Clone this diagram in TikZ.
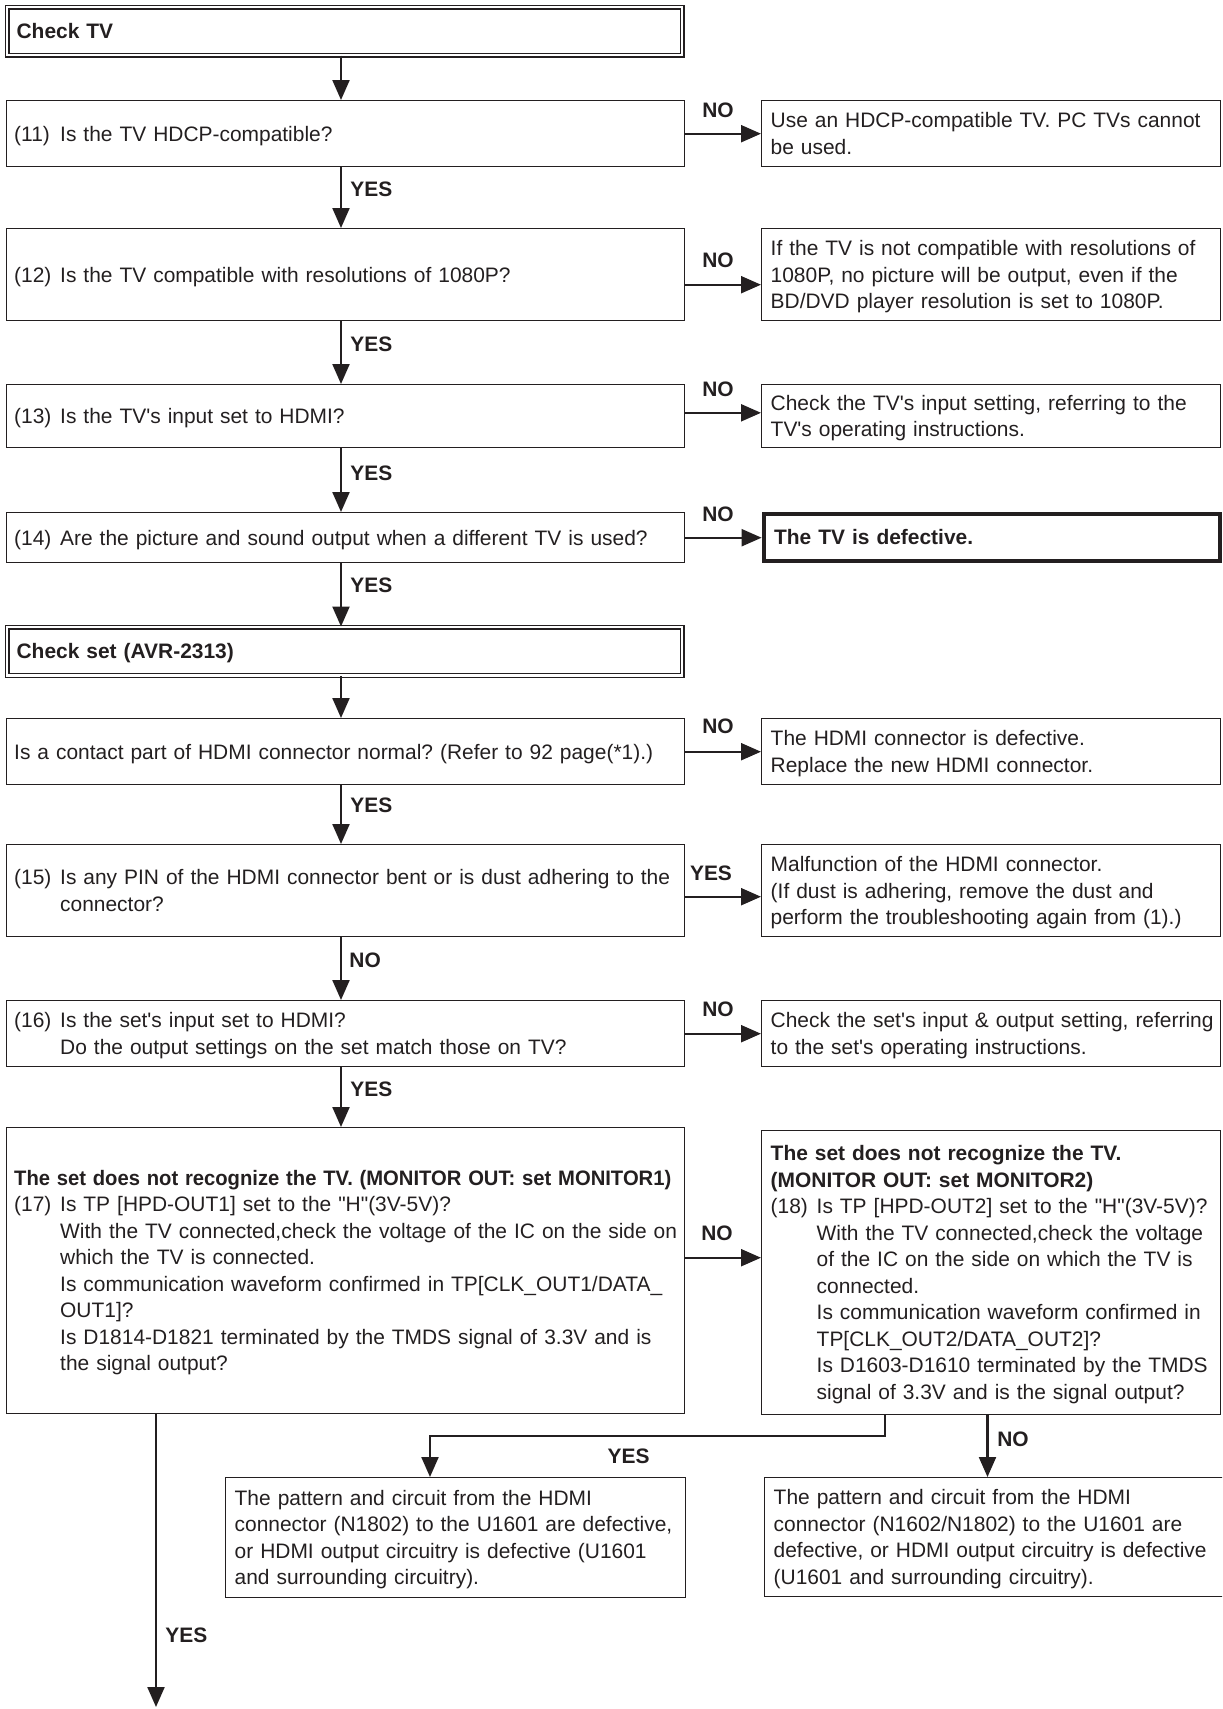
\documentclass[tikz,border=0pt]{standalone}
\usepackage{graphicx}
\usepackage{fontspec}
\setmainfont{Liberation Sans}[Ligatures=TeXOff]
\usetikzlibrary{arrows.meta}
\definecolor{ink}{RGB}{35,31,32}
\newcommand\nfont{\fontsize{10.47}{13.25}\selectfont\frenchspacing}
\newcommand\tb[1]{\raisebox{-1.1pt}[\height][\depth]{\begin{tabular}{@{}l@{}}#1\end{tabular}}}
\newcommand\nm[1]{\makebox[23pt][l]{#1}}
\newcommand\ind{\hspace*{23pt}}
\begin{document}
\begin{tikzpicture}[x=0.5pt,y=-0.5pt,
  box/.style={draw=ink, line width=0.7pt, anchor=north west, inner xsep=4.5pt, inner ysep=0pt, align=left, font=\nfont, text=ink},
  mbox/.style={box, inner xsep=4pt, text width=331pt, minimum width=339pt},
  rbox/.style={box, text width=220.5pt, minimum width=229.5pt},
  dbox/.style={box, double=white, line width=0.6pt, double distance=1.3pt, font=\nfont\bfseries, inner xsep=4.75pt, text width=328pt, minimum width=337.5pt},
  tbox/.style={box, line width=2.35pt, font=\nfont\bfseries, inner xsep=5.1pt, text width=217.8pt, minimum width=228pt},
  arr/.style={draw=ink, line width=1.1pt, -{Triangle[length=10pt,width=8.5pt]}},
  lbl/.style={font=\nfont\bfseries, text=ink, inner sep=0pt},
]
\useasboundingbox (0,0) rectangle (1222,1709);
\clip (0,0) rectangle (1222,1709);

% boxes
\node[dbox, minimum height=24pt] (b0) at (6.5,6.5) {\tb{Check TV}};
\node[mbox, minimum height=33pt] (b11) at (5.5,100) {\tb{\nm{(11)}Is the TV HDCP-compatible?}};
\node[rbox, minimum height=33pt] (r11) at (761,100) {\tb{Use an HDCP-compatible TV. PC TVs cannot\\be used.}};
\node[mbox, minimum height=46pt] (b12) at (5.5,228) {\tb{\nm{(12)}Is the TV compatible with resolutions of 1080P?}};
\node[rbox, minimum height=46pt] (r12) at (761,228) {\tb{If the TV is not compatible with resolutions of\\1080P, no picture will be output, even if the\\BD/DVD player resolution is set to 1080P.}};
\node[mbox, minimum height=31.5pt] (b13) at (5.5,384) {\tb{\nm{(13)}Is the TV's input set to HDMI?}};
\node[rbox, minimum height=31.5pt] (r13) at (761,384) {\tb{Check the TV's input setting, referring to the\\TV's operating instructions.}};
\node[mbox, minimum height=25pt] (b14) at (5.5,512) {\tb{\nm{(14)}Are the picture and sound output when a different TV is used?}};
\node[tbox, minimum height=23.5pt] (r14) at (761.6,511.5) {\tb{The TV is defective.}};
\node[dbox, minimum height=24.25pt] (bset) at (6.5,626.5) {\tb{Check set (AVR-2313)}};
\node[mbox, minimum height=33pt] (bc) at (5.5,718) {\tb{Is a contact part of HDMI connector normal? (Refer to 92 page(*1).)}};
\node[rbox, minimum height=33pt] (rc) at (761,718) {\tb{The HDMI connector is defective.\\Replace the new HDMI connector.}};
\node[mbox, minimum height=46pt] (b15) at (5.5,844) {\tb{\nm{(15)}Is any PIN of the HDMI connector bent or is dust adhering to the\\\ind connector?}};
\node[rbox, minimum height=46pt] (r15) at (761,844) {\tb{Malfunction of the HDMI connector.\\(If dust is adhering, remove the dust and\\perform the troubleshooting again from (1).)}};
\node[mbox, minimum height=33pt] (b16) at (5.5,1000) {\tb{\nm{(16)}Is the set's input set to HDMI?\\\ind Do the output settings on the set match those on TV?}};
\node[rbox, minimum height=33pt] (r16) at (761,1000) {\tb{Check the set's input \& output setting, referring\\to the set's operating instructions.}};
\node[mbox, minimum height=143pt] (b17) at (5.5,1127) {\tb{\scalebox{0.966}[1]{\textbf{The set does not recognize the TV. (MONITOR OUT: set MONITOR1)}}\\
\nm{(17)}Is TP [HPD-OUT1] set to the "H"(3V-5V)?\\
\ind With the TV connected,check the voltage of the IC on the side on\\
\ind which the TV is connected.\\
\ind Is communication waveform confirmed in TP[CLK\_OUT1/DATA\_\\
\ind OUT1]?\\
\ind Is D1814-D1821 terminated by the TMDS signal of 3.3V and is\\
\ind the signal output?}};
\node[rbox, minimum height=142pt] (r18) at (761,1130) {\tb{\textbf{The set does not recognize the TV.}\\
\textbf{(MONITOR OUT: set MONITOR2)}\\
\nm{(18)}Is TP [HPD-OUT2] set to the "H"(3V-5V)?\\
\ind With the TV connected,check the voltage\\
\ind of the IC on the side on which the TV is\\
\ind connected.\\
\ind Is communication waveform confirmed in\\
\ind TP[CLK\_OUT2/DATA\_OUT2]?\\
\ind Is D1603-D1610 terminated by the TMDS\\
\ind signal of 3.3V and is the signal output?}};
\node[box, text width=221pt, minimum width=230pt, minimum height=60pt] (by) at (225,1477) {\tb{The pattern and circuit from the HDMI\\connector (N1802) to the U1601 are defective,\\or HDMI output circuitry is defective (U1601\\and surrounding circuitry).}};
\node[box, text width=221pt, minimum width=230pt, minimum height=59.5pt] (bn) at (764,1477) {\tb{The pattern and circuit from the HDMI\\connector (N1602/N1802) to the U1601 are\\defective, or HDMI output circuitry is defective\\(U1601 and surrounding circuitry).}};

% main column arrows
\coordinate (ax) at (341,0);
\draw[arr] (b0.south -| ax) -- (b11.north -| ax);
\draw[arr] (b11.south -| ax) -- (b12.north -| ax);
\draw[arr] (b12.south -| ax) -- (b13.north -| ax);
\draw[arr] (b13.south -| ax) -- (b14.north -| ax);
\draw[arr] (b14.south -| ax) -- (bset.north -| ax);
\draw[arr] (bset.south -| ax) -- (bc.north -| ax);
\draw[arr] (bc.south -| ax) -- (b15.north -| ax);
\draw[arr] (b15.south -| ax) -- (b16.north -| ax);
\draw[arr] (b16.south -| ax) -- (b17.north -| ax);
\coordinate (endY) at (156,1707);
\draw[arr] (b17.south -| endY) -- (endY);

% side arrows
\draw[arr] (b11.east) -- (r11.west);
\draw[arr] ([yshift=-5pt]b12.east) -- ([yshift=-5pt]r12.west);
\draw[arr] ([yshift=1.7pt]b13.east) -- ([yshift=1.7pt]r13.west);
\draw[arr] (b14.east) -- (b14.east -| r14.west);
\draw[arr] (bc.east) -- (rc.west);
\draw[arr] ([yshift=-3pt]b15.east) -- ([yshift=-3pt]r15.west);
\draw[arr] (b16.east) -- (r16.west);
\draw[arr] ([yshift=6.5pt]b17.east) -- ([yshift=6.5pt]b17.east -| r18.west);

% bottom connectors
\coordinate (yx) at (885,1436);
\coordinate (yb) at (430,1436);
\draw[arr] (r18.south -| yx) -- (yx) -- (yb) -- (by.north -| yb);
\coordinate (nx) at (987.5,0);
\draw[arr] (r18.south -| nx) -- (bn.north -| nx);

% labels
\node[lbl, anchor=west] (l1) at (350,189) {YES};
\node[lbl, anchor=west] (l2) at (350,344.5) {YES};
\node[lbl, anchor=west] (l3) at (350,473) {YES};
\node[lbl, anchor=west] (l4) at (350,585.5) {YES};
\node[lbl, anchor=west] (l5) at (350,805.5) {YES};
\node[lbl, anchor=west] (l6) at (349,960) {NO};
\node[lbl, anchor=west] (l7) at (350,1089) {YES};
\node[lbl] (n1) at (718,110) {NO};
\node[lbl] (n2) at (718,260.5) {NO};
\node[lbl] (n3) at (718,389) {NO};
\node[lbl] (n4) at (718,514.5) {NO};
\node[lbl] (n5) at (718,726) {NO};
\node[lbl] (n6) at (711,873) {YES};
\node[lbl] (n7) at (718,1009.5) {NO};
\node[lbl] (n8) at (717,1233) {NO};
\node[lbl] (n9) at (628.6,1456) {YES};
\node[lbl] (n10) at (1013,1439) {NO};
\node[lbl, anchor=west] (n11) at (165,1635) {YES};
\end{tikzpicture}
\end{document}
